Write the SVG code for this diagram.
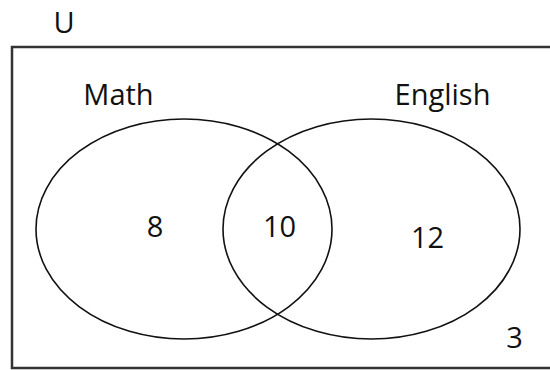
<svg xmlns="http://www.w3.org/2000/svg" width="550" height="370" viewBox="0 0 550 370">
<style>
.lbl{font-family:"Open Sans","Noto Sans",sans-serif;font-size:29px;fill:#111;text-anchor:middle}
.set{fill:none;stroke:#111;stroke-width:1.6}
</style>
<rect width="550" height="370" fill="#fff"/>
<g id="universe">
<rect x="12" y="47" width="560" height="321" fill="none" stroke="#333" stroke-width="2.5"/>
<text class="lbl" x="64" y="33">U</text>
<text class="lbl" x="514.5" y="348">3</text>
</g>
<g id="math">
<ellipse class="set" cx="184" cy="229" rx="148" ry="110"/>
<text class="lbl" x="118.5" y="105">Math</text>
<text class="lbl" x="155" y="237">8</text>
</g>
<g id="english">
<ellipse class="set" cx="371.5" cy="229" rx="148.5" ry="110"/>
<text class="lbl" x="442.5" y="105">English</text>
<text class="lbl" x="427.5" y="248">12</text>
</g>
<g id="both">
<text class="lbl" x="279.5" y="237">10</text>
</g>
</svg>
